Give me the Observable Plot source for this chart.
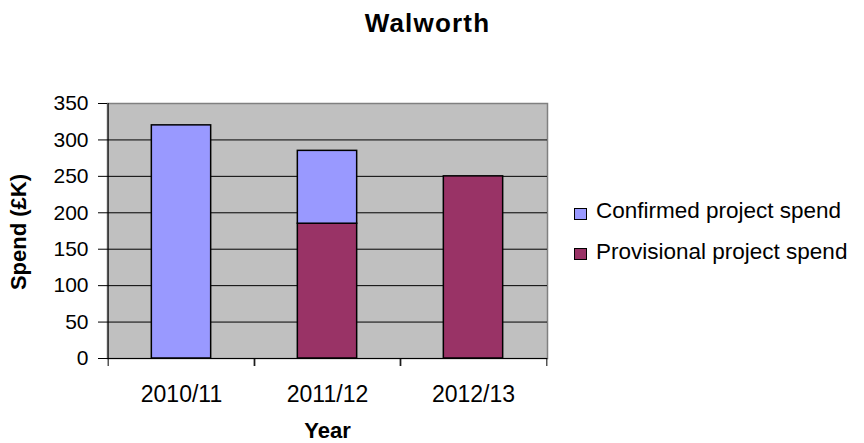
<!DOCTYPE html>
<html>
<head>
<meta charset="utf-8">
<script src="https://cdn.jsdelivr.net/npm/d3@7"></script>
<script src="https://cdn.jsdelivr.net/npm/@observablehq/plot@0.6"></script>
<style>
  html, body { margin: 0; padding: 0; background: #fff; }
  #wrap { position: relative; width: 864px; height: 443px; font-family: "Liberation Sans", Arial, sans-serif; color: #000; overflow: hidden; }
  #wrap svg { position: absolute; left: 0; top: 0; }
  .abs { position: absolute; white-space: nowrap; }
</style>
</head>
<body>
<div id="wrap"></div>
<script>
const title = "Walworth";
const xTitle = "Year";
const yTitle = "Spend (£K)";
const years = ["2010/11", "2011/12", "2012/13"];
const seriesNames = ["Provisional project spend", "Confirmed project spend"];
const seriesColors = ["#993366", "#9999FF"];
const provisional = [0, 185, 250];
const confirmed = [320, 100, 0];
const yTicks = [0, 50, 100, 150, 200, 250, 300, 350];

const W = 864, H = 443, mL = 107, mR = 317, mT = 103, mB = 85;
const halfBand = (W - mL - mR) / years.length / 2;
const barInset = halfBand - 30;

const rows = [];
years.forEach((y, i) => { if (provisional[i] > 0) rows.push({year: y, series: seriesNames[0], value: provisional[i]}); });
years.forEach((y, i) => { if (confirmed[i] > 0) rows.push({year: y, series: seriesNames[1], value: confirmed[i]}); });

const chart = Plot.plot({
  width: W, height: H,
  marginLeft: mL, marginRight: mR, marginTop: mT, marginBottom: mB,
  style: {fontFamily: "Liberation Sans, Arial, sans-serif", fontSize: "21px", background: "transparent", color: "#000"},
  x: {type: "band", domain: years, padding: 0, label: null},
  y: {domain: [0, 350], label: null},
  color: {domain: seriesNames, range: seriesColors},
  marks: [
    Plot.frame({fill: "#C0C0C0", stroke: "#808080", strokeWidth: 1.5}),
    Plot.ruleY(yTicks.filter(t => t > 0 && t < 350), {stroke: "#000", strokeWidth: 1}),
    Plot.barY(rows, {x: "year", y: "value", fill: "series", stroke: "#000", strokeWidth: 1.5, insetLeft: barInset, insetRight: barInset, order: seriesNames}),
    Plot.ruleY([0], {stroke: "#000", strokeWidth: 1}),
    Plot.ruleX([years[0]], {dx: -halfBand, stroke: "#000", strokeWidth: 1}),
    Plot.axisY({ticks: yTicks, tickSize: 9, tickPadding: 10, fontSize: 21, label: null}),
    Plot.axisX({tickSize: 0, tickPadding: 27, fontSize: 23, label: null}),
    Plot.axisX({tickSize: 8, dx: -halfBand, tickFormat: () => "", label: null}),
    Plot.axisX({tickSize: 8, dx: halfBand, tickFormat: () => "", label: null})
  ]
});

const wrap = document.getElementById("wrap");
wrap.appendChild(chart);

function addText(txt, fs, baseline, css) {
  const d = document.createElement("div");
  d.className = "abs";
  d.textContent = txt;
  const lh = 0.8 * fs;
  Object.assign(d.style, {fontSize: fs + "px", lineHeight: lh + "px"});
  if (baseline !== null) d.style.top = (baseline - 0.7465 * fs) + "px";
  Object.assign(d.style, css);
  wrap.appendChild(d);
  return d;
}
addText(title, 26, 32.7, {left: "427.5px", fontWeight: "bold", letterSpacing: "1.2px", transform: "translateX(-50%)"});
addText(xTitle, 22, 438, {left: "327.5px", fontWeight: "bold", transform: "translateX(-50%)"});
addText(yTitle, 22, null, {left: "19px", top: "232px", fontWeight: "bold", transform: "translate(-50%,-50%) rotate(-90deg)"});

// legend (confirmed first, as in reference)
const legendOrder = [1, 0];
legendOrder.forEach((k, j) => {
  const sq = document.createElement("div");
  Object.assign(sq.style, {position: "absolute", left: "574px", top: (208.3 + j * 40) + "px", width: "11px", height: "10px", background: seriesColors[k], border: "1px solid #000"});
  wrap.appendChild(sq);
  addText(seriesNames[k], 22.5, 219 + j * 40.3, {left: "596px"});
});
</script>
</body>
</html>
